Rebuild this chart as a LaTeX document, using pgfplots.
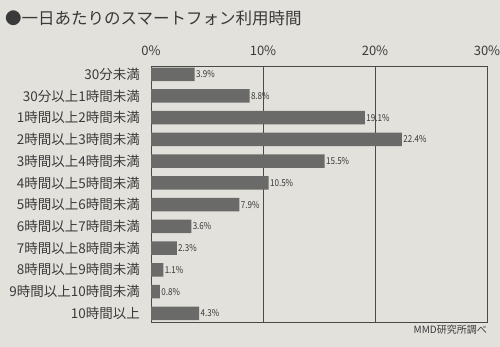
\documentclass[border=0pt]{standalone}
\usepackage{fontspec}
\setmainfont{Noto Sans CJK JP}
\usepackage{pgfplots}
\pgfplotsset{compat=1.18}
\definecolor{paper}{HTML}{E3E1DC}
\definecolor{barc}{HTML}{6A6A68}
\definecolor{ink}{HTML}{3A3A3A}
\definecolor{linec}{HTML}{4A4A4A}
\begin{document}
\begin{tikzpicture}
\fill[paper] (0,0) rectangle (500pt,347pt);
\useasboundingbox (0,0) rectangle (500pt,347pt);
\node[anchor=west, text=ink, font=\fontsize{16.5}{16.5}\selectfont, inner sep=0pt] at (5pt,329pt) {●一日あたりのスマートフォン利用時間};
\node[anchor=east, text=ink, font=\fontsize{10}{10}\selectfont, inner sep=0pt] at (487pt,17pt) {MMD研究所調べ};
\begin{axis}[
  at={(151pt,25pt)}, anchor=south west,
  scale only axis, width=336pt, height=256pt,
  xbar, bar width=13.5pt,
  xmin=0, xmax=30, xtick={0,10,20,30},
  ymin=-0.38, ymax=11.4, y dir=reverse,
  ytick={0,...,11},
  yticklabels={30分未満,30分以上1時間未満,1時間以上2時間未満,2時間以上3時間未満,3時間以上4時間未満,4時間以上5時間未満,5時間以上6時間未満,6時間以上7時間未満,7時間以上8時間未満,8時間以上9時間未満,9時間以上10時間未満,10時間以上},
  /pgf/number format/assume math mode=true,
  xticklabel pos=upper,
  xticklabel={\pgfmathprintnumber{\tick}\%},
  major tick length=0pt,
  xmajorgrids, grid style={linec, line width=0.8pt},
  axis line style={linec, line width=0.8pt},
  xticklabel style={text=ink, font=\fontsize{13}{13}\selectfont, inner sep=0pt, yshift=10pt},
  yticklabel style={text=ink, font=\fontsize{13.5}{13.5}\selectfont, inner sep=0pt, xshift=-11pt},
  nodes near coords={\pgfmathprintnumber[fixed,precision=1,fixed zerofill]{\pgfplotspointmeta}\%},
  nodes near coords style={text=ink, font=\fontsize{9.5}{9.5}\selectfont, inner sep=1.5pt, xscale=0.85},
  point meta=x,
]
\addplot[fill=barc, draw=none] coordinates {
(3.9,0) (8.8,1) (19.1,2) (22.4,3) (15.5,4) (10.5,5) (7.9,6) (3.6,7) (2.3,8) (1.1,9) (0.8,10) (4.3,11)
};
\end{axis}
\end{tikzpicture}
\end{document}
